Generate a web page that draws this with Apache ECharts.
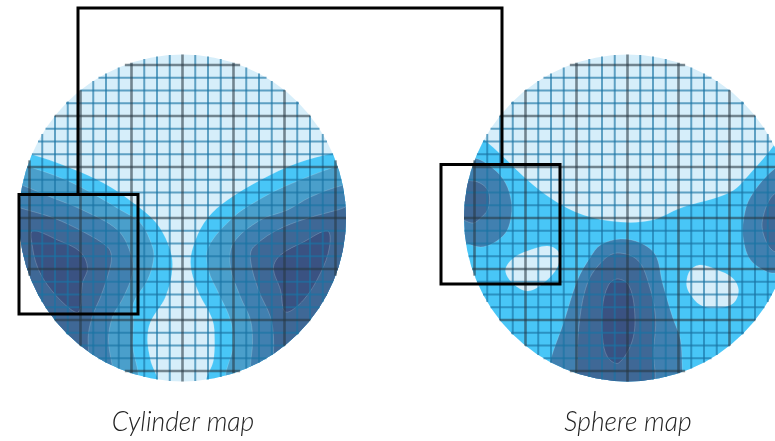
<!DOCTYPE html>
<html>
<head>
<meta charset="utf-8">
<style>html,body{margin:0;padding:0;background:#fff}#main{width:775px;height:441px}</style>
<script src="https://cdn.jsdelivr.net/npm/echarts@6/dist/echarts.min.js"></script>
</head>
<body>
<div id="main"></div>
<script>
// map units, origin at the centre of each disc
var mapRadius = 163.5;
var mapNames = ['Cylinder map', 'Sphere map'];
var majorTicks = [-153, -102, -51, 0, 51, 102, 153];
var minorTicks = [-140.25, -127.5, -114.75, -89.25, -76.5, -63.75, -38.25, -25.5, -12.75,
  12.75, 25.5, 38.25, 63.75, 76.5, 89.25, 114.75, 127.5, 140.25];

// contour colours, lowest level first
var paleColor = '#d6eefa';
var levelColors = ['#48c6f7', '#4a9fcb', '#4180b0', '#3f6896', '#3a5282'];

// cylinder map, left lobe
var cylL1 = [[-177,68],[-152,64],[-102,46],[-72,31],[-49,15],[-27,-4],[-14,-27],[-10,-49],[-17,-79],[-32,-104],[-35,-122],[-32,-142],[-27,-167],[-190,-190]];
var cylL2 = [[-177,56],[-157,52],[-129,43],[-102,31],[-62,8],[-42,-5],[-30,-29],[-29,-42],[-35,-62],[-49,-85],[-49,-105],[-50,-125],[-49,-167],[-190,-190]];
var cylL3 = [[-177,38],[-161,33],[-132,21],[-100,8],[-65,-12],[-52,-35],[-50,-55],[-59,-79],[-70,-99],[-74,-122],[-70,-149],[-67,-167],[-190,-190]];
var cylL4 = [[-177,15],[-162,10],[-129,0],[-99,-14],[-75,-29],[-71,-39],[-74,-55],[-82,-79],[-89,-95],[-94,-115],[-94,-135],[-94,-167],[-190,-190]];
var cylL5 = [[-150,-13],[-125,-22],[-102,-34],[-95,-50],[-100,-65],[-104,-94],[-117,-87],[-135,-67],[-145,-49],[-150,-29]];
// cylinder map, right lobe
var cylR1 = [[178,70],[151,65],[115,55],[78,38],[45,18],[25,0],[13,-22],[8,-45],[15,-72],[30,-102],[32,-122],[31,-142],[26,-167],[190,-190]];
var cylR2 = [[190,60],[158,53],[101,31],[71,15],[51,1],[26,-29],[26,-52],[36,-75],[48,-102],[51,-125],[47,-167],[190,-190]];
var cylR3 = [[190,38],[161,33],[128,21],[105,8],[78,-2],[51,-25],[48,-49],[58,-79],[68,-102],[70,-125],[68,-147],[68,-167],[190,-190]];
var cylR4 = [[190,15],[155,8],[101,-9],[71,-29],[68,-42],[76,-72],[88,-99],[91,-119],[91,-135],[91,-167],[190,-190]];
var cylR5 = [[145,-13],[121,-24],[98,-37],[91,-50],[98,-72],[103,-94],[121,-82],[138,-55],[147,-29]];

// sphere map
var sphBand = [[-170,100],[-144,79],[-124,61],[-100,38],[-74,18],[-44,3],[-7,-4],[25,-2],[53,10],[103,26],[123,45],[148,75],[170,110],[190,-190],[-190,-190],[-190,60]];
var sphIslandA = [[-122,-52],[-114,-40],[-100,-33],[-80,-28],[-69,-34],[-70,-49],[-84,-65],[-100,-73],[-115,-65]];
var sphIslandB = [[59,-65],[63,-52],[73,-47],[90,-52],[105,-60],[111,-72],[106,-85],[90,-90],[73,-87],[62,-75]];
var sphLeft3 = [[-180,55],[-154,60],[-135,50],[-122,35],[-116,15],[-117,-2],[-122,-15],[-134,-25],[-147,-29],[-162,-25],[-180,-20]];
var sphLeft4 = [[-180,35],[-154,37],[-142,31],[-138,21],[-140,8],[-147,0],[-154,-5],[-164,-2],[-180,5]];
var sphMid3 = [[-77,-142],[-64,-105],[-50,-62],[-37,-39],[-27,-27],[-7,-21],[13,-25],[28,-37],[35,-65],[45,-99],[53,-122],[55,-155],[58,-180],[-85,-180]];
var sphMid4 = [[-50,-155],[-49,-112],[-40,-65],[-24,-42],[-10,-35],[10,-42],[21,-65],[28,-99],[26,-132],[23,-170],[-50,-175]];
var sphMid5 = [[-10,-61],[1,-67],[7,-92],[5,-122],[-9,-145],[-20,-139],[-25,-119],[-25,-89],[-19,-67]];
var sphRight3 = [[170,58],[148,50],[123,21],[116,-2],[116,-22],[123,-42],[140,-54],[150,-55],[180,-55]];
var sphRight4 = [[180,30],[148,25],[135,-2],[138,-22],[148,-34],[180,-36]];

// zoom boxes [x0, y0, x1, y1]
var cylBox = [-163.5, 23.5, -44.5, -96];
var sphBox = [-186.5, 53.5, -67.5, -66];
// link between the boxes, in cylinder map units
var linkLine = [[-104.5,24],[-104.5,210],[319.5,210],[319.5,53.5]];

var minorStroke = 'rgba(25,115,165,0.64)';
var majorStroke = 'rgba(40,55,65,0.58)';

var cylLayers = [
  { pts: cylL1, color: levelColors[0] }, { pts: cylL2, color: levelColors[1] },
  { pts: cylL3, color: levelColors[2] }, { pts: cylL4, color: levelColors[3] },
  { pts: cylL5, color: levelColors[4] },
  { pts: cylR1, color: levelColors[0] }, { pts: cylR2, color: levelColors[1] },
  { pts: cylR3, color: levelColors[2] }, { pts: cylR4, color: levelColors[3] },
  { pts: cylR5, color: levelColors[4] }
];
var sphLayers = [
  { pts: sphBand, color: levelColors[0] },
  { pts: sphIslandA, color: paleColor }, { pts: sphIslandB, color: paleColor },
  { pts: sphLeft3, color: levelColors[2] }, { pts: sphLeft4, color: levelColors[3] },
  { pts: sphMid3, color: levelColors[2] }, { pts: sphMid4, color: levelColors[3] },
  { pts: sphMid5, color: levelColors[4] },
  { pts: sphRight3, color: levelColors[2] }, { pts: sphRight4, color: levelColors[3] }
];

function idx(arr) {
  return arr.map(function (v, i) { return [i]; });
}

function discSeries(g) {
  return {
    type: 'custom', xAxisIndex: g, yAxisIndex: g, silent: true, data: [[0]],
    renderItem: function (params, api) {
      var c = api.coord([0, 0]);
      return { type: 'circle', shape: { cx: c[0], cy: c[1], r: api.size([mapRadius, 0])[0] }, style: { fill: paleColor } };
    }
  };
}

function contourSeries(g, layers) {
  return {
    type: 'custom', xAxisIndex: g, yAxisIndex: g, silent: true, data: idx(layers),
    renderItem: function (params, api) {
      var layer = layers[params.dataIndex];
      var c = api.coord([0, 0]);
      return {
        type: 'polygon',
        shape: { points: layer.pts.map(function (p) { return api.coord(p); }), smooth: 0.35 },
        style: { fill: layer.color, stroke: 'rgba(255,255,255,0.18)', lineWidth: 1 },
        clipPath: { type: 'circle', shape: { cx: c[0], cy: c[1], r: api.size([mapRadius, 0])[0] } }
      };
    }
  };
}

function gridLines(g, ticks, color, w) {
  var lines = [];
  ticks.forEach(function (t) {
    lines.push({ v: t, vertical: true });
    lines.push({ v: t, vertical: false });
  });
  return {
    type: 'custom', xAxisIndex: g, yAxisIndex: g, silent: true, data: idx(lines),
    renderItem: function (params, api) {
      var l = lines[params.dataIndex];
      var h = Math.sqrt(mapRadius * mapRadius - l.v * l.v);
      var a = api.coord(l.vertical ? [l.v, -h] : [-h, l.v]);
      var b = api.coord(l.vertical ? [l.v, h] : [h, l.v]);
      return { type: 'line', shape: { x1: a[0], y1: a[1], x2: b[0], y2: b[1] }, style: { stroke: color, lineWidth: w } };
    }
  };
}

function boxSeries(g, box) {
  return {
    type: 'custom', xAxisIndex: g, yAxisIndex: g, silent: true, data: [[0]], z: 5,
    renderItem: function (params, api) {
      var a = api.coord([box[0], box[1]]);
      var b = api.coord([box[2], box[3]]);
      return { type: 'rect', shape: { x: a[0], y: a[1], width: b[0] - a[0], height: b[1] - a[1] }, style: { fill: 'none', stroke: '#000', lineWidth: 3 } };
    }
  };
}

var titleStyle = { fontFamily: 'Lato', fontStyle: 'italic', fontWeight: 300, fontSize: 26.5, color: '#222' };

var option = {
  animation: false,
  backgroundColor: '#fff',
  title: [
    { text: mapNames[0], left: 178, top: 404, textAlign: 'center', textStyle: titleStyle },
    { text: mapNames[1], left: 623, top: 404, textAlign: 'center', textStyle: titleStyle }
  ],
  // the sphere disc runs off the right edge of the page, so its x axis stops there
  grid: [
    { left: 19, top: 54.5, width: 327, height: 327 },
    { left: 464, top: 54.5, width: 311, height: 327 }
  ],
  xAxis: [
    { type: 'value', gridIndex: 0, min: -mapRadius, max: mapRadius, show: false },
    { type: 'value', gridIndex: 1, min: -mapRadius, max: 147.5, show: false }
  ],
  yAxis: [
    { type: 'value', gridIndex: 0, min: -mapRadius, max: mapRadius, show: false },
    { type: 'value', gridIndex: 1, min: -mapRadius, max: mapRadius, show: false }
  ],
  series: [
    discSeries(0),
    contourSeries(0, cylLayers),
    gridLines(0, minorTicks, minorStroke, 2),
    gridLines(0, majorTicks, majorStroke, 2.6),
    discSeries(1),
    contourSeries(1, sphLayers),
    gridLines(1, minorTicks, minorStroke, 2),
    gridLines(1, majorTicks, majorStroke, 2.6),
    boxSeries(0, cylBox),
    boxSeries(1, sphBox),
    {
      type: 'custom', xAxisIndex: 0, yAxisIndex: 0, silent: true, data: [[0]], z: 5,
      renderItem: function (params, api) {
        return {
          type: 'polyline',
          shape: { points: linkLine.map(function (p) { return api.coord(p); }) },
          style: { fill: 'none', stroke: '#000', lineWidth: 3 }
        };
      }
    }
  ]
};

var myChart = echarts.init(document.getElementById('main'), null, { renderer: 'canvas' });
myChart.setOption(option);
</script>
</body>
</html>
